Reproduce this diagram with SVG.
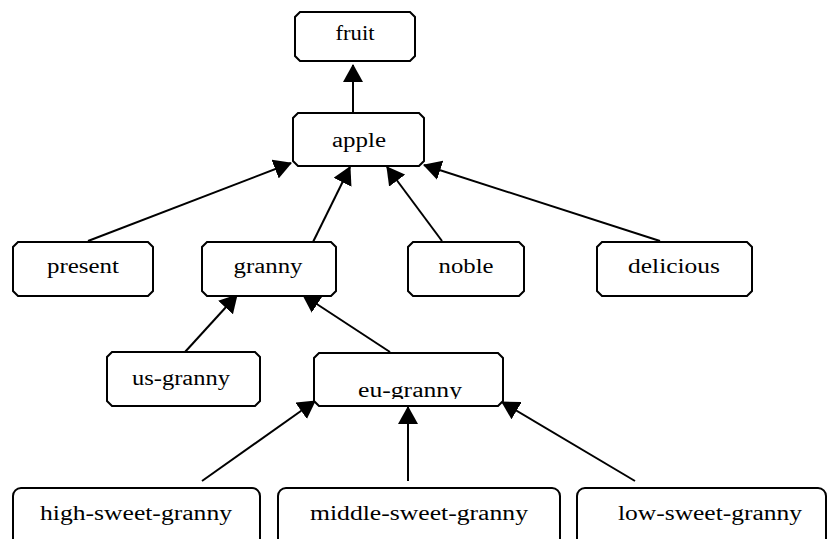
<svg xmlns="http://www.w3.org/2000/svg" width="832" height="539" viewBox="0 0 832 539">
  <style>
    .box { fill: #fff; stroke: #000; stroke-width: 2; }
    .lbl { font-family: "Liberation Serif", "Times New Roman", serif; font-size: 20px; fill: #000; text-anchor: middle; }
    .edge { stroke: #000; stroke-width: 2; fill: none; marker-end: url(#arrow); }
  </style>
  <defs>
    <marker id="arrow" viewBox="0 0 18 20" refX="17" refY="10" markerWidth="18" markerHeight="20" markerUnits="userSpaceOnUse" orient="auto">
      <path d="M0,0 L18,10 L0,20 Z" fill="#000"/>
    </marker>
    <clipPath id="euClip">
      <rect x="314" y="353" width="189" height="46"/>
    </clipPath>
  </defs>
  <rect width="832" height="539" fill="#fff"/>

  <g id="connectors">
    <line class="edge" x1="353" y1="113" x2="353" y2="65"/>
    <line class="edge" x1="88" y1="241" x2="291" y2="163"/>
    <line class="edge" x1="313" y1="242" x2="350" y2="167"/>
    <line class="edge" x1="442" y1="241" x2="387" y2="167"/>
    <line class="edge" x1="660" y1="241" x2="424" y2="165"/>
    <line class="edge" x1="185" y1="352" x2="237" y2="295"/>
    <line class="edge" x1="390" y1="352" x2="303" y2="295"/>
    <line class="edge" x1="202" y1="481" x2="315" y2="401"/>
    <line class="edge" x1="408" y1="481" x2="408" y2="407"/>
    <line class="edge" x1="635" y1="481" x2="502" y2="402"/>
  </g>

  <g id="fruit">
    <path class="box" d="M300,12 H410 L415,17 V56 L410,61 H300 L295,56 V17 Z"/>
    <text class="lbl" x="355" y="40" textLength="39" lengthAdjust="spacingAndGlyphs">fruit</text>
  </g>
  <g id="apple">
    <path class="box" d="M298,113 H419 L424,118 V161 L419,166 H298 L293,161 V118 Z"/>
    <text class="lbl" x="359" y="147" textLength="54" lengthAdjust="spacingAndGlyphs">apple</text>
  </g>
  <g id="present">
    <path class="box" d="M18,242 H148 L153,247 V291 L148,296 H18 L13,291 V247 Z"/>
    <text class="lbl" x="83" y="273" textLength="72" lengthAdjust="spacingAndGlyphs">present</text>
  </g>
  <g id="granny">
    <path class="box" d="M207,242 H331 L336,247 V291 L331,296 H207 L202,291 V247 Z"/>
    <text class="lbl" x="268" y="273" textLength="69" lengthAdjust="spacingAndGlyphs">granny</text>
  </g>
  <g id="noble">
    <path class="box" d="M413,242 H519 L524,247 V291 L519,296 H413 L408,291 V247 Z"/>
    <text class="lbl" x="466" y="273" textLength="55" lengthAdjust="spacingAndGlyphs">noble</text>
  </g>
  <g id="delicious">
    <path class="box" d="M602,242 H747 L752,247 V291 L747,296 H602 L597,291 V247 Z"/>
    <text class="lbl" x="674" y="273" textLength="92" lengthAdjust="spacingAndGlyphs">delicious</text>
  </g>
  <g id="us-granny">
    <path class="box" d="M112,352 H255 L260,357 V401 L255,406 H112 L107,401 V357 Z"/>
    <text class="lbl" x="181" y="385" textLength="98" lengthAdjust="spacingAndGlyphs">us-granny</text>
  </g>
  <g id="eu-granny">
    <path class="box" d="M319,353 H498 L503,358 V401 L498,406 H319 L314,401 V358 Z"/>
    <text class="lbl" x="410" y="397" textLength="104" lengthAdjust="spacingAndGlyphs" clip-path="url(#euClip)">eu-granny</text>
  </g>
  <g id="high-sweet-granny">
    <rect class="box" x="13" y="488" width="247" height="80" rx="8"/>
    <text class="lbl" x="136" y="520" textLength="192" lengthAdjust="spacingAndGlyphs">high-sweet-granny</text>
  </g>
  <g id="middle-sweet-granny">
    <rect class="box" x="278" y="488" width="282" height="80" rx="8"/>
    <text class="lbl" x="419" y="520" textLength="218" lengthAdjust="spacingAndGlyphs">middle-sweet-granny</text>
  </g>
  <g id="low-sweet-granny">
    <rect class="box" x="577" y="488" width="249" height="80" rx="8"/>
    <text class="lbl" x="710" y="520" textLength="184" lengthAdjust="spacingAndGlyphs">low-sweet-granny</text>
  </g>
</svg>
